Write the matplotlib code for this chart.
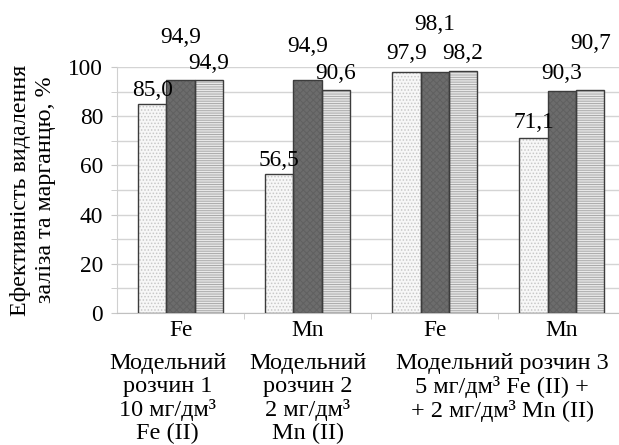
import matplotlib
matplotlib.use("Agg")
import matplotlib.pyplot as plt
import numpy as np

plt.rcParams['font.family'] = ['Liberation Serif', 'DejaVu Serif']
plt.rcParams['hatch.linewidth'] = 0.7

categories = ["Fe", "Mn", "Fe", "Mn"]
series1 = [85.0, 56.5, 97.9, 71.1]
series2 = [94.9, 94.9, 98.1, 90.3]
series3 = [94.9, 90.6, 98.2, 90.7]
label_texts = [["85,0", "56,5", "97,9", "71,1"],
               ["94,9", "94,9", "98,1", "90,3"],
               ["94,9", "90,6", "98,2", "90,7"]]
group_labels = ["Модельний\nрозчин 1\n10 мг/дм³\nFe (II)",
                "Модельний\nрозчин 2\n2 мг/дм³\nMn (II)",
                "Модельний розчин 3\n5 мг/дм³ Fe (II) +\n+ 2 мг/дм³ Mn (II)"]
group_label_pos = [-0.1, 1, 2.53]
ylabel = "Ефективність видалення\nзаліза та марганцю, %"

# label offsets (layout only, data units)
label_offsets = [[5.6, 5.5, 7.7, 6.5],
                 [17.0, 13.5, 19.0, 7.2],
                 [6.7, 6.9, 7.4, 19.0]]

FS = 16.8
FS_GROUP = 17.5
FS_YLAB = 17.3

fig = plt.figure(figsize=(6.19, 4.45), dpi=100)
ax = fig.add_axes([117/619, 132/445, (619-117)/619, (313-67)/445])

x = np.arange(len(categories))
w = 0.223
styles = [
    dict(face='#f7f7f7', hatch='.....', hcol='#c8c8c8'),
    dict(face='#6c6c6c', hatch='xxxxx', hcol='#606060'),
    dict(face='#e8e8e8', hatch='-------', hcol='#a8a8a8'),
]
all_series = [series1, series2, series3]
for i, (vals, st) in enumerate(zip(all_series, styles)):
    xs = x + (i - 1) * w
    ax.bar(xs, vals, w, color=st['face'], hatch=st['hatch'],
           edgecolor=st['hcol'], linewidth=0, zorder=2)
    ax.bar(xs, vals, w, fill=False, edgecolor='#3c3c3c', linewidth=1.0, zorder=3)
    for xi, v, t, off in zip(xs, vals, label_texts[i], label_offsets[i]):
        ax.text(xi, v + off, t, ha='center', va='center', fontsize=FS,
                clip_on=False, zorder=4)

ax.set_ylim(0, 100)
ax.set_xlim(-0.5, 3.45)
ax.set_yticks(np.arange(0, 101, 20))
ax.set_yticks(np.arange(0, 101, 10), minor=True)
ax.tick_params(axis='y', which='both', length=4, color='#c8c8c8', labelsize=FS, pad=6)
ax.tick_params(axis='y', which='minor', labelleft=False)
ax.grid(axis='y', which='both', color='#d4d4d4', linewidth=1.0, zorder=0)
ax.set_axisbelow(True)

ax.set_xticks(x)
ax.set_xticklabels(categories, fontsize=FS)
ax.set_xticks(np.arange(0.5, 3.0, 1.0), minor=True)
ax.tick_params(axis='x', which='major', length=0, pad=5)
ax.tick_params(axis='x', which='minor', length=4, color='#c8c8c8')

for s in ['top', 'right']:
    ax.spines[s].set_visible(False)
ax.spines['left'].set_color('#d0d0d0')
ax.spines['bottom'].set_color('#c0c0c0')

for pos, lab in zip(group_label_pos, group_labels):
    ax.annotate(lab, xy=(pos, 0), xycoords=('data', 'axes fraction'),
                xytext=(0, -29), textcoords='offset points',
                ha='center', va='top', fontsize=FS_GROUP, linespacing=1.12,
                annotation_clip=False)

fig.text(33/619, 1 - 190/445, ylabel, rotation=90, ha='center', va='center',
         fontsize=FS_YLAB, multialignment='center', linespacing=1.2)

fig.savefig("out.png", dpi=100)
